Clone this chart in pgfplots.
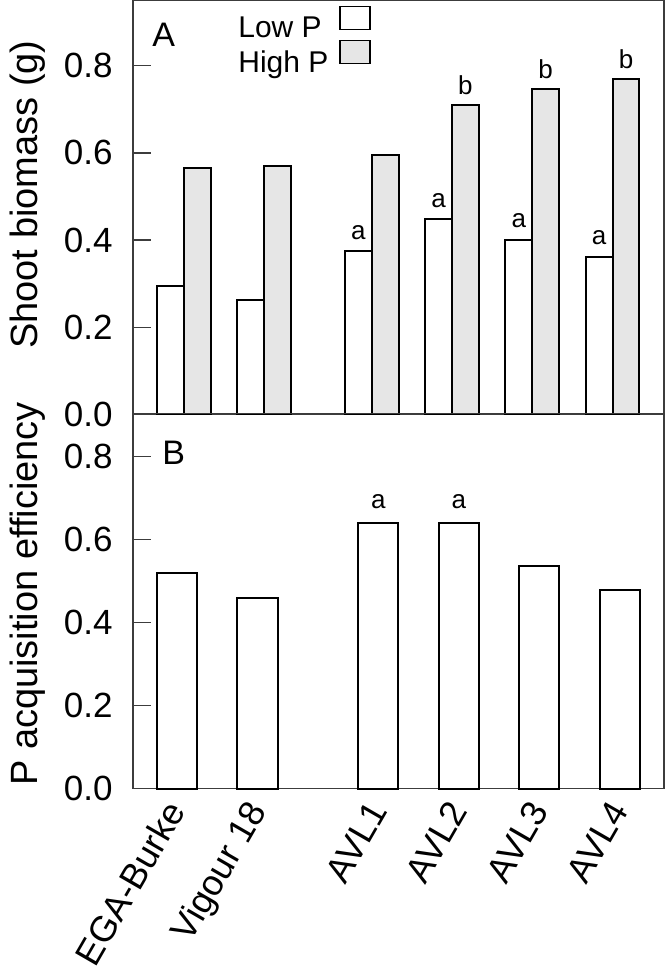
\documentclass[border=0pt]{standalone}
\usepackage{fontspec}
\setmainfont{Liberation Sans}
\usepackage{pgfplots}
\pgfplotsset{compat=1.18}

\definecolor{highfill}{RGB}{230,230,230}
\definecolor{framegray}{RGB}{60,60,60}

\newcommand{\ticksize}{\fontsize{17.5}{20}\selectfont}
\newcommand{\labsize}{\fontsize{19}{22}\selectfont}

\tikzset{
  sig/.style={font=\fontsize{13}{15}\selectfont, anchor=base, inner sep=0pt},
  panellab/.style={font=\fontsize{17}{20}\selectfont, anchor=base west, inner sep=0pt},
}

\pgfplotsset{
  panel/.style={
    scale only axis, width=265.5pt,
    ymin=0, ytick={0,0.2,0.4,0.6,0.8},
    axis line style={framegray, line width=0.65pt},
    tick style={framegray, line width=0.65pt},
    major tick length=9pt, tick align=inside,
    ytick pos=left, xtick style={draw=none},
    yticklabel style={font=\ticksize, inner sep=0pt, xshift=-10pt,
      /pgf/number format/fixed, /pgf/number format/fixed zerofill,
      /pgf/number format/precision=1, /pgf/number format/assume math mode=true},
    ylabel style={font=\labsize, anchor=base},
    clip=false,
  },
  boxlegend/.style={legend image code/.code={%
      \draw[draw=black, line width=0.65pt, fill=##1] (0pt,-0.5pt) rectangle (15pt,11pt);}},
  lowbar/.style={ybar, draw=black, fill=white, line width=1pt},
  highbar/.style={ybar, draw=black, fill=highfill, line width=1pt},
}

\begin{document}
\begin{tikzpicture}
\path[use as bounding box] (0,0) rectangle (333pt,489.5pt);

% Panel A: shoot biomass
\begin{axis}[panel,
    at={(66.5pt,282.25pt)}, anchor=south west,
    height=207.1pt, ymax=0.95,
    xmin=-0.635, xmax=5.978, xtick=\empty,
    ylabel={Shoot biomass (g)},
    ylabel style={at={(axis description cs:-0.180,0.531)}},
    legend style={at={(axis description cs:0.1977,0.988)}, anchor=north west,
      draw=none, fill=none, font=\fontsize{15}{18}\selectfont,
      inner sep=0pt, row sep=0pt, nodes={inner sep=0pt},
      /tikz/column 1/.style={column sep=5.5pt}},
    legend cell align=left, legend plot pos=right,
]
\addplot[lowbar, bar width=0.335, bar shift=-0.1675, boxlegend=white] coordinates {
    (0,0.295) (1,0.262) (2.337,0.375) (3.337,0.448) (4.337,0.401) (5.337,0.362)
};
\addlegendentry{Low P}
\addplot[highbar, bar width=0.335, bar shift=0.1675, boxlegend=highfill] coordinates {
    (0,0.565) (1,0.570) (2.337,0.595) (3.337,0.711) (4.337,0.747) (5.337,0.770)
};
\addlegendentry{High P}
\node[sig] at (axis cs:2.170,0.4025) {a};
\node[sig] at (axis cs:3.170,0.4755) {a};
\node[sig] at (axis cs:4.170,0.4285) {a};
\node[sig] at (axis cs:5.170,0.3895) {a};
\node[sig] at (axis cs:3.5045,0.734) {b};
\node[sig] at (axis cs:4.5045,0.770) {b};
\node[sig] at (axis cs:5.5045,0.793) {b};
\node[panellab] at (axis description cs:0.0358,0.888) {A};
\end{axis}

% Panel B: P acquisition efficiency
\begin{axis}[panel,
    at={(66.5pt,95.15pt)}, anchor=south west,
    height=187.6pt, ymax=0.904,
    xmin=-0.547, xmax=6.05,
    xtick={0,1,2.5,3.5,4.5,5.5},
    xticklabels={EGA-Burke,Vigour 18,AVL1,AVL2,AVL3,AVL4},
    xticklabel style={font=\fontsize{18}{21}\selectfont, inner sep=0pt,
      xshift=5pt, yshift=-11pt, rotate=60, anchor=base east},
    ylabel={P acquisition efficiency},
    ylabel style={at={(axis description cs:-0.180,0.519)}},
]
\addplot[lowbar, bar width=0.5, bar shift=0] coordinates {
    (0,0.520) (1,0.459) (2.5,0.639) (3.5,0.639) (4.5,0.536) (5.5,0.478)
};
\node[sig] at (axis cs:2.5,0.674) {a};
\node[sig] at (axis cs:3.5,0.674) {a};
\node[panellab] at (axis description cs:0.0546,0.865) {B};
\end{axis}
\end{tikzpicture}
\end{document}
